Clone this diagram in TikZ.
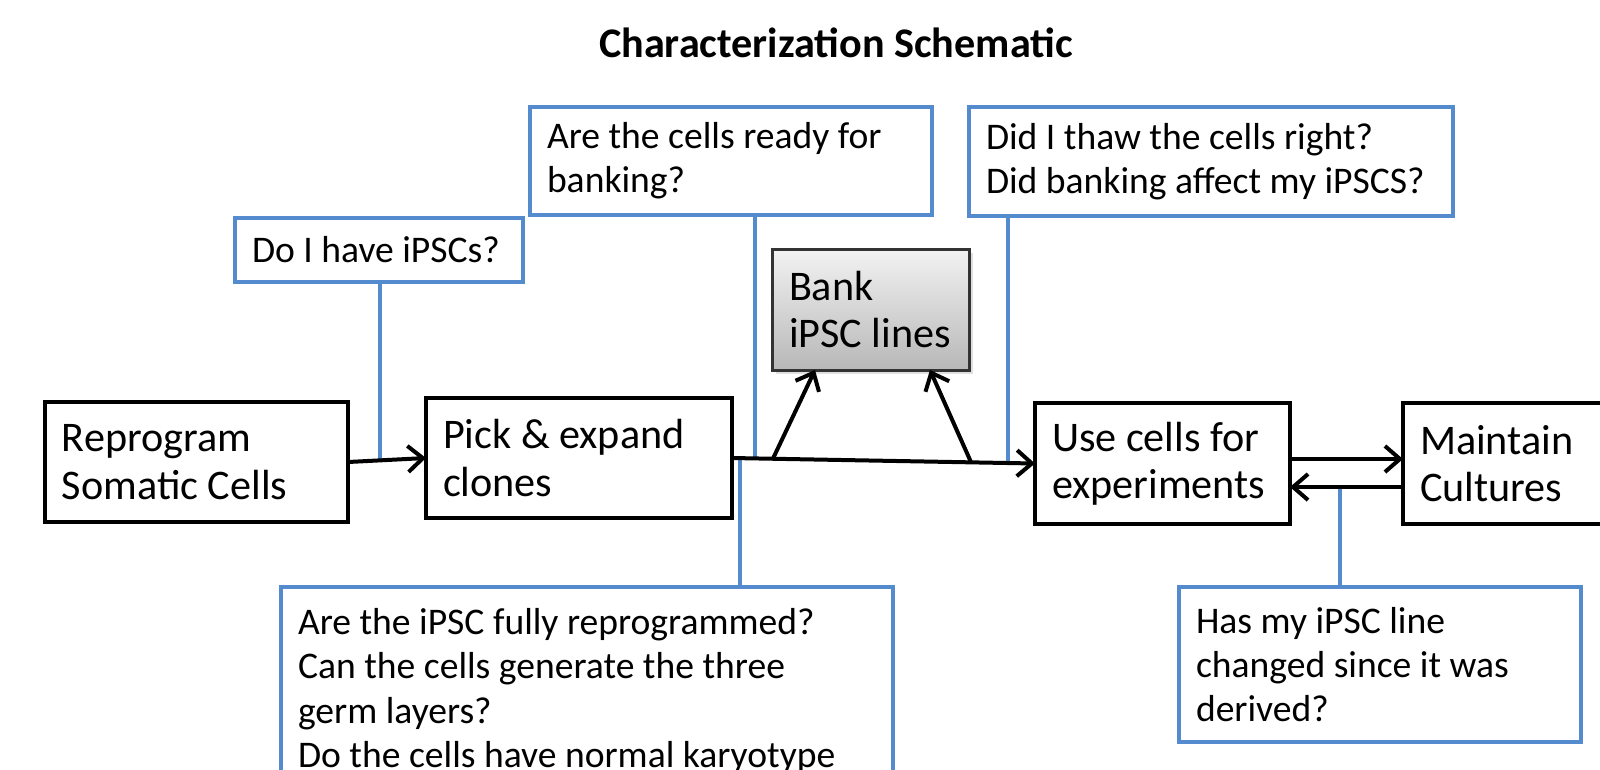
\documentclass[tikz,border=0pt]{standalone}
\usepackage{fontspec}
\setmainfont{Carlito}
\usetikzlibrary{arrows.meta,calc,shadows}
\definecolor{qblue}{RGB}{84,139,206}
\begin{document}
\begin{tikzpicture}[x=0.1mm,y=-0.1mm,
  flow/.style={draw=black, line width=0.4mm, fill=white, anchor=north west, align=flush left,
    inner xsep=1.7mm, inner ysep=0pt, outer sep=0pt, font=\fontsize{12pt}{13.5pt}\selectfont},
  bankbox/.style={flow, draw=black!80, line width=0.3mm, top color=black!5, bottom color=black!28,
    drop shadow={opacity=0.25, shadow xshift=0.4mm, shadow yshift=-0.4mm}},
  qbox/.style={draw=qblue, line width=0.4mm, fill=white, anchor=north west, align=flush left,
    inner xsep=1.7mm, inner ysep=0pt, outer sep=0pt, font=\fontsize{10.7pt}{12.6pt}\selectfont},
  arr/.style={draw=black, line width=0.4mm, -{Straight Barb[length=1.5mm,width=2.6mm]}},
  stub/.style={draw=qblue, line width=0.4mm}]
\clip (0,0) rectangle (1600,769);
\fill[white] (0,0) rectangle (1600,769);

% title
\node[font=\fontsize{12pt}{14pt}\selectfont\bfseries] (title) at (836,43) {Characterization Schematic};

% process boxes
\node[flow, text width=26.9mm, minimum height=12mm] (rep) at (45,402) {Reprogram\\Somatic Cells};
\node[flow, text width=27.2mm, minimum height=12mm] (pick) at (426,398) {Pick \& expand\\clones};
\node[bankbox, text width=16.3mm, minimum height=12.1mm] (bank) at (772,249) {Bank\\iPSC lines};
\node[flow, text width=22.1mm, minimum height=12.1mm] (use) at (1035,403) {Use cells for\\experiments};
\node[flow, text width=18.6mm, minimum height=12.1mm] (maint) at (1403,403) {Maintain\\Cultures};

% question boxes
\node[qbox, text width=25.4mm, minimum height=6.4mm] (q1) at (235,218) {Do I have iPSCs?};
\node[qbox, text width=36.8mm, minimum height=10.8mm] (q2) at (530,107) {Are the cells ready for\\banking?};
\node[qbox, text width=45mm, minimum height=10.9mm] (q3) at (969,107) {Did I thaw the cells right?\\Did banking affect my iPSCS?};
\node[qbox, text width=57.8mm, minimum height=20.8mm] (qb1) at (281,587) {Are the iPSC fully reprogrammed?\\Can the cells generate the three\\germ layers?\\Do the cells have normal karyotype};
\node[qbox, text width=36.8mm, minimum height=15.5mm] (qb2) at (1179,587) {Has my iPSC line\\changed since it was\\derived?};

% points on connectors
\path (rep.east) -- coordinate[pos=0.41] (s1) (pick.west);
\path (pick.east) -- coordinate[pos=0.026] (s4) coordinate[pos=0.076] (s2)
  coordinate[pos=0.135] (b1) coordinate[pos=0.789] (b2) coordinate[pos=0.911] (s3) (use.west);
\path ([yshift=-2.35mm]maint.west) -- coordinate[pos=0.558] (s5) ([yshift=-2.35mm]use.east);

% blue stubs
\draw[stub] (s1 |- q1.south) -- (s1);
\draw[stub] (s2 |- q2.south) -- (s2);
\draw[stub] (s3 |- q3.south) -- (s3);
\draw[stub] (s4) -- (s4 |- qb1.north);
\draw[stub] (s5) -- (s5 |- qb2.north);

% arrows
\draw[arr] (rep.east) -- (pick.west);
\draw[arr] (pick.east) -- (use.west);
\draw[arr] (b1) -- ([xshift=-5.55mm]bank.south);
\draw[arr] (b2) -- ([xshift=5.95mm]bank.south);
\draw[arr] ([yshift=0.45mm]use.east) -- ([yshift=0.45mm]maint.west);
\draw[arr] ([yshift=-2.35mm]maint.west) -- ([yshift=-2.35mm]use.east);
\end{tikzpicture}
\end{document}
